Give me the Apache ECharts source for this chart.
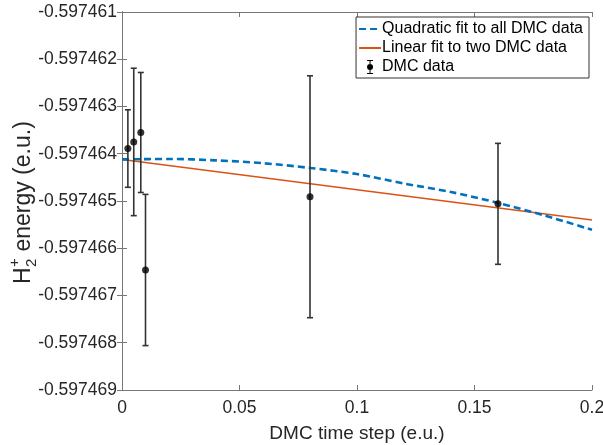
<!DOCTYPE html>
<html>
<head>
<meta charset="utf-8">
<script src="https://cdn.jsdelivr.net/npm/echarts@6/dist/echarts.min.js"></script>
<style>
html,body{margin:0;padding:0;background:#fff;}
#chart{width:603px;height:445px;}
</style>
</head>
<body>
<div id="chart"></div>
<script>
// ---- data ----
const dmcStep = [0.0025, 0.005, 0.008, 0.01, 0.08, 0.16];
const dmcEnergy = [-0.59746389, -0.59746375, -0.59746355, -0.59746646, -0.59746491, -0.59746506];
const dmcError = [0.00000082, 0.00000156, 0.00000127, 0.00000160, 0.00000256, 0.00000128];

const quadStep = [0, 0.02, 0.04, 0.06, 0.08, 0.10, 0.12, 0.14, 0.16, 0.18, 0.20];
const quadEnergy = [-0.59746412, -0.59746411, -0.59746414, -0.59746420, -0.59746430, -0.59746443,
                    -0.59746463, -0.59746481, -0.59746504, -0.59746531, -0.59746561];

const linStep = [0, 0.2];
const linEnergy = [-0.59746412, -0.59746540];

const xTicks = [0, 0.05, 0.1, 0.15, 0.2];
const yMin = -0.597469, yMax = -0.597461, yStep = 0.000001;

const seriesNames = ['Quadratic fit to all DMC data', 'Linear fit to two DMC data', 'DMC data'];
const yLabelParts = ['H', '2', '+', ' energy (e.u.)'];
const xLabel = 'DMC time step (e.u.)';

// ---- chart ----
const FONT = '"Liberation Sans", Arial, Helvetica, sans-serif';
const TXT = '#262626';
const AX = '#777';

const chart = echarts.init(document.getElementById('chart'), null, {renderer: 'canvas'});

const errData = dmcStep.map((x, i) => [x, dmcEnergy[i] - dmcError[i], dmcEnergy[i] + dmcError[i]]);

const axisCommon = {
  axisLine: {show: true, lineStyle: {color: AX, width: 1}},
  axisTick: {show: true, inside: true, length: 5, lineStyle: {color: AX, width: 1}},
  splitLine: {show: false}
};

const hiddenSym = {color: 'rgba(0,0,0,0)', borderWidth: 0, opacity: 0};

const option = {
  animation: false,
  backgroundColor: '#fff',
  textStyle: {fontFamily: FONT},
  grid: {left: 122, right: 11, top: 12, bottom: 55, containLabel: false, outerBoundsMode: 'none'},
  legend: {
    orient: 'vertical',
    right: 14, top: 17,
    itemWidth: 22, itemHeight: 14, itemGap: 3,
    padding: [4, 6, 3, 2],
    borderColor: '#333', borderWidth: 1,
    backgroundColor: '#fff',
    selectedMode: false,
    textStyle: {fontFamily: FONT, fontSize: 16, lineHeight: 14, color: '#000', padding: [0, 0, 0, -4]},
    data: [
      {name: seriesNames[0], itemStyle: hiddenSym},
      {name: seriesNames[1], itemStyle: hiddenSym},
      {name: seriesNames[2], icon: 'path://M0,0H6V1H0Z M0,13H6V14H0Z M2.5,0H3.5V14H2.5Z M3,4A3,3,0,1,1,3,10A3,3,0,1,1,3,4Z', itemStyle: {color: '#000'}}
    ]
  },
  xAxis: [
    Object.assign({
      type: 'value', min: 0, max: 0.2, interval: 0.05, position: 'bottom',
      name: xLabel, nameLocation: 'middle', nameGap: 34,
      nameTextStyle: {fontSize: 19, color: TXT, fontFamily: FONT},
      axisLabel: {fontSize: 17.5, color: TXT, margin: 9, fontFamily: FONT,
                  formatter: v => String(xTicks.find(t => Math.abs(t - v) < 1e-9) ?? v)}
    }, axisCommon),
    Object.assign({
      type: 'value', min: 0, max: 0.2, interval: 0.05, position: 'top',
      axisLabel: {show: false}
    }, axisCommon)
  ],
  yAxis: [
    Object.assign({
      type: 'value', min: yMin, max: yMax, interval: yStep, position: 'left',
      axisLabel: {fontSize: 17.5, color: TXT, margin: 5, fontFamily: FONT, formatter: v => v.toFixed(6)}
    }, axisCommon),
    Object.assign({
      type: 'value', min: yMin, max: yMax, interval: yStep, position: 'right',
      axisLabel: {show: false}
    }, axisCommon)
  ],
  series: [
    {
      name: seriesNames[0], type: 'line',
      data: quadStep.map((x, i) => [x, quadEnergy[i]]),
      symbol: 'none', smooth: 0.3,
      lineStyle: {color: '#0072BD', width: 2.6, type: [7, 4]},
      itemStyle: {color: '#0072BD'},
      z: 3
    },
    {
      name: seriesNames[1], type: 'line',
      data: linStep.map((x, i) => [x, linEnergy[i]]),
      symbol: 'none',
      lineStyle: {color: '#D95319', width: 1.5},
      itemStyle: {color: '#D95319'},
      z: 2
    },
    {
      name: seriesNames[2], type: 'custom',
      data: errData,
      encode: {x: 0, y: [1, 2]},
      itemStyle: {color: '#000'},
      z: 4,
      renderItem: function (params, api) {
        const x = api.value(0);
        const lo = api.coord([x, api.value(1)]);
        const hi = api.coord([x, api.value(2)]);
        const w = 3;
        const st = {stroke: '#333', lineWidth: 1.6};
        return {
          type: 'group',
          children: [
            {type: 'line', shape: {x1: hi[0], y1: hi[1], x2: lo[0], y2: lo[1]}, style: st},
            {type: 'line', shape: {x1: hi[0] - w, y1: hi[1], x2: hi[0] + w, y2: hi[1]}, style: st},
            {type: 'line', shape: {x1: lo[0] - w, y1: lo[1], x2: lo[0] + w, y2: lo[1]}, style: st}
          ]
        };
      }
    },
    {
      name: seriesNames[2], type: 'scatter',
      data: dmcStep.map((x, i) => [x, dmcEnergy[i]]),
      symbol: 'circle', symbolSize: 7,
      itemStyle: {color: '#000'},
      z: 5
    }
  ],
  graphic: [
    {
      type: 'group',
      x: 24, y: 284,
      rotation: Math.PI / 2,
      children: [
        {type: 'text', x: 0, y: 0, style: {text: yLabelParts[0], font: '23px ' + FONT, fill: TXT, verticalAlign: 'middle', align: 'left'}},
        {type: 'text', x: 17, y: 8, style: {text: yLabelParts[1], font: '15px ' + FONT, fill: TXT, verticalAlign: 'middle', align: 'left'}},
        {type: 'text', x: 17, y: -9, style: {text: yLabelParts[2], font: '15px ' + FONT, fill: TXT, verticalAlign: 'middle', align: 'left'}},
        {type: 'text', x: 26, y: 0, style: {text: yLabelParts[3], font: '23px ' + FONT, fill: TXT, verticalAlign: 'middle', align: 'left'}}
      ]
    }
  ]
};

chart.setOption(option);
</script>
</body>
</html>
